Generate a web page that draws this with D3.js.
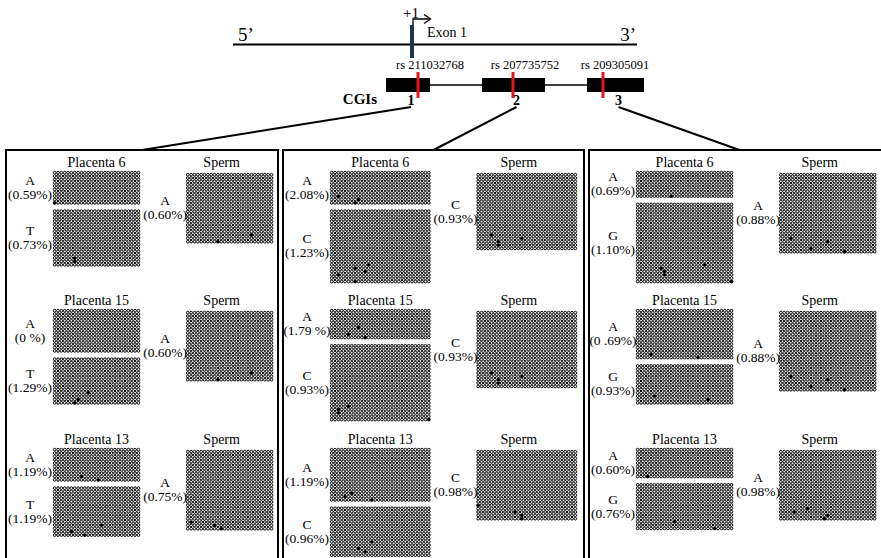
<!DOCTYPE html>
<html><head><meta charset="utf-8">
<script src="https://cdn.jsdelivr.net/npm/d3@7"></script>
<style>
body{margin:0;background:#fff}
svg{display:block}
text{font-family:"Liberation Serif","Times New Roman",serif;fill:#000}
</style>
</head><body>
<svg id="c" width="881" height="558"></svg>
<script>
// ---------------- DATA ----------------
const geneSpan = [-179, 225];          // gene schematic span (relative units, TSS = 0)
const tssPos = 0;
const cgiIds = ["1", "2", "3"];
const cgiSpans = [[-26, 18], [70, 133], [175, 232]];
const snpPos = [6, 101, 191];
const snpIds = ["rs 211032768", "rs 207735752", "rs 209305091"];
const samples = ["Placenta 6", "Placenta 15", "Placenta 13"];
const spermName = "Sperm";
const placentaAlleles = [["A", "T"], ["A", "C"], ["A", "G"]];
const spermAlleles = ["A", "C", "A"];
const cpgCounts = [26, 30, 29];        // CpG sites (columns) per CGI
// [cgi][sample][allele]
const placentaPct = [
  [["0.59%", "0.73%"], ["0 %", "1.29%"], ["1.19%", "1.19%"]],
  [["2.08%", "1.23%"], ["1.79 %", "0.93%"], ["1.19%", "0.96%"]],
  [["0.69%", "1.10%"], ["0 .69%", "0.93%"], ["0.60%", "0.76%"]]
];
const spermPct = [
  ["0.60%", "0.60%", "0.75%"],
  ["0.93%", "0.93%", "0.98%"],
  ["0.88%", "0.88%", "0.98%"]
];
const placentaClones = [
  [[10, 17], [13, 14], [10, 15]],
  [[10, 22], [9, 23], [16, 15]],
  [[8, 24], [15, 12], [9, 14]]
];
const spermClones = [[21, 21, 24], [23, 23, 21], [24, 24, 21]];
// methylated sites: [clone, CpG]
const placentaMeth = [
  [[[[9, 0]], [[14, 6], [15, 6]]],
   [[], [[13, 6], [12, 7], [10, 10]]],
   [[[8, 8], [9, 13]], [[13, 5], [14, 9], [11, 14]]]],
  [[[[7, 2], [9, 7], [8, 8]], [[19, 2], [17, 7], [21, 7], [18, 10], [16, 11]]],
   [[[7, 5], [5, 8], [8, 10]], [[19, 2], [20, 2], [18, 5], [22, 29]]],
   [[[14, 4], [13, 6], [15, 12]], [[12, 8], [13, 10], [10, 12]]]],
  [[[[7, 10]], [[19, 7], [20, 8], [21, 8], [18, 20], [23, 28]]],
   [[[13, 4], [14, 18]], [[9, 5], [10, 21]]],
   [[[8, 3]], [[11, 11], [13, 23]]]]
];
const spermMeth = [
  [[[20, 9], [18, 19]], [[20, 9], [18, 19]], [[21, 1], [22, 8], [23, 10]]],
  [[[18, 4], [20, 6], [21, 6], [19, 13]], [[18, 4], [20, 6], [21, 6], [19, 13]], [[16, 0], [18, 11], [19, 13], [20, 13]]],
  [[[19, 3], [22, 9], [20, 14], [23, 19]], [[19, 3], [22, 9], [20, 14], [23, 19]], [[18, 4], [17, 8], [20, 13], [19, 14]]]
];

// ---------------- LAYOUT ----------------
const L = {
  geneY: 44.5, boxTop: 78, boxH: 14,
  panelLeft: [6, 283, 589], panelRight: [278, 584, 890], panelTop: 150,
  rowTops: [171, 309, 448], pitch: 3.35, stackGap: 5,
  gridOffset: 47, spermGap: 46, spermDy: 2
};

const svg = d3.select("#c");

// ---------- gene schematic ----------
const gx = d3.scaleLinear().domain(geneSpan).range([233, 637]);
const topG = svg.append("g");
topG.append("line").attr("x1", gx(geneSpan[0])).attr("x2", gx(geneSpan[1]))
  .attr("y1", L.geneY).attr("y2", L.geneY).attr("stroke", "#000").attr("stroke-width", 2);
topG.append("text").attr("x", gx(geneSpan[0]) + 5).attr("y", 41).attr("font-size", 19).text("5’");
topG.append("text").attr("x", gx(geneSpan[1]) - 1).attr("y", 41).attr("text-anchor", "end").attr("font-size", 19).text("3’");
// TSS
topG.append("rect").attr("x", gx(tssPos) - 2).attr("y", 25).attr("width", 4).attr("height", 33)
  .attr("fill", "#1d3652");
topG.append("path")
  .attr("d", `M${gx(tssPos) + 1},25 V19 H${gx(tssPos) + 18}`)
  .attr("fill", "none").attr("stroke", "#000").attr("stroke-width", 1.3);
topG.append("path")
  .attr("d", `M${gx(tssPos) + 12},14.5 L${gx(tssPos) + 18.5},19 L${gx(tssPos) + 12},23.5`)
  .attr("fill", "none").attr("stroke", "#000").attr("stroke-width", 1.3);
topG.append("text").attr("x", gx(tssPos) - 9).attr("y", 18).attr("font-size", 15).text("+1");
topG.append("text").attr("x", gx(tssPos) + 15).attr("y", 37).attr("font-size", 14).text("Exon 1");

// CGI connector lines
for (let i = 0; i < cgiSpans.length - 1; i++) {
  topG.append("line").attr("x1", gx(cgiSpans[i][1])).attr("x2", gx(cgiSpans[i + 1][0]))
    .attr("y1", L.boxTop + 7).attr("y2", L.boxTop + 7).attr("stroke", "#000").attr("stroke-width", 1.5);
}
topG.selectAll("rect.cgi").data(cgiSpans).join("rect").attr("class", "cgi")
  .attr("x", d => gx(d[0])).attr("width", d => gx(d[1]) - gx(d[0]))
  .attr("y", L.boxTop).attr("height", L.boxH).attr("fill", "#000");
topG.selectAll("rect.snp").data(snpPos).join("rect").attr("class", "snp")
  .attr("x", d => gx(d) - 1.5).attr("width", 3).attr("y", 72).attr("height", 26).attr("fill", "#e8141c");
topG.selectAll("text.snp").data(snpIds).join("text").attr("class", "snp")
  .attr("x", (d, i) => gx(snpPos[i]) + 12).attr("y", 69).attr("text-anchor", "middle")
  .attr("font-size", 12.5).text(d => d);
topG.append("text").attr("x", gx(cgiSpans[0][0]) - 9).attr("y", 104).attr("text-anchor", "end")
  .attr("font-size", 15).attr("font-weight", "bold").text("CGIs");
const numX = cgiSpans.map(d => (gx(d[0]) + gx(d[1])) / 2 + 3);
topG.selectAll("text.num").data(cgiIds).join("text").attr("class", "num")
  .attr("x", (d, i) => numX[i]).attr("y", 105).attr("text-anchor", "middle")
  .attr("font-size", 14).attr("font-weight", "bold").text(d => d);

// ---------- panels ----------
cgiIds.forEach((id, ci) => {
  const pl = L.panelLeft[ci], pr = L.panelRight[ci];
  svg.append("line").attr("x1", numX[ci]).attr("y1", 107).attr("x2", (pl + pr) / 2).attr("y2", L.panelTop)
    .attr("stroke", "#000").attr("stroke-width", 2);
  svg.append("rect").attr("x", pl).attr("y", L.panelTop).attr("width", pr - pl).attr("height", 430)
    .attr("fill", "none").attr("stroke", "#000").attr("stroke-width", 2);
});

function drawGrid(g, x0, y0, rows, cols, meth) {
  const p = L.pitch;
  const xs = d3.scaleBand().domain(d3.range(cols)).range([x0, x0 + cols * p]);
  const ys = d3.scaleBand().domain(d3.range(rows)).range([y0, y0 + rows * p]);
  const cells = [];
  for (let r = 0; r < rows; r++) for (let c = 0; c < cols; c++) cells.push([r, c]);
  const key = new Set(meth.map(d => d[0] + "_" + d[1]));
  g.append("g").selectAll("circle").data(cells.filter(d => !key.has(d[0] + "_" + d[1]))).join("circle")
    .attr("cx", d => xs(d[1]) + p / 2).attr("cy", d => ys(d[0]) + p / 2).attr("r", 1.35)
    .attr("fill", "#fff").attr("stroke", "#000").attr("stroke-width", 1.0);
  g.append("g").selectAll("circle").data(meth).join("circle")
    .attr("cx", d => xs(d[1]) + p / 2).attr("cy", d => ys(d[0]) + p / 2).attr("r", 1.9)
    .attr("fill", "#000");
  return { w: cols * p, h: rows * p };
}

function label(g, x, cy, allele, pct) {
  g.append("text").attr("x", x).attr("y", cy - 3).attr("text-anchor", "middle").attr("font-size", 13.5).text(allele);
  g.append("text").attr("x", x).attr("y", cy + 11).attr("text-anchor", "middle").attr("font-size", 13.5).text("(" + pct + ")");
}

cgiIds.forEach((id, ci) => {
  const g = svg.append("g");
  const cols = cpgCounts[ci];
  const px0 = L.panelLeft[ci] + L.gridOffset;
  const gw = cols * L.pitch;
  const sx0 = px0 + gw + L.spermGap;
  samples.forEach((s, si) => {
    const rt = L.rowTops[si];
    g.append("text").attr("x", px0 + gw / 2).attr("y", rt - 4).attr("text-anchor", "middle")
      .attr("font-size", 14).text(s);
    let y = rt;
    placentaAlleles[ci].forEach((al, ai) => {
      const rows = placentaClones[ci][si][ai];
      const dim = drawGrid(g, px0, y, rows, cols, placentaMeth[ci][si][ai]);
      label(g, px0 - 23, y + dim.h / 2, al, placentaPct[ci][si][ai]);
      y += dim.h + L.stackGap;
    });
    const sy = rt + L.spermDy;
    const dimS = drawGrid(g, sx0, sy, spermClones[ci][si], cols, spermMeth[ci][si]);
    g.append("text").attr("x", sx0 + gw / 2 - 8).attr("y", rt - 4).attr("text-anchor", "middle")
      .attr("font-size", 14).text(spermName);
    label(g, sx0 - 21, sy + dimS.h / 2, spermAlleles[ci], spermPct[ci][si]);
  });
});
</script>
</body></html>
